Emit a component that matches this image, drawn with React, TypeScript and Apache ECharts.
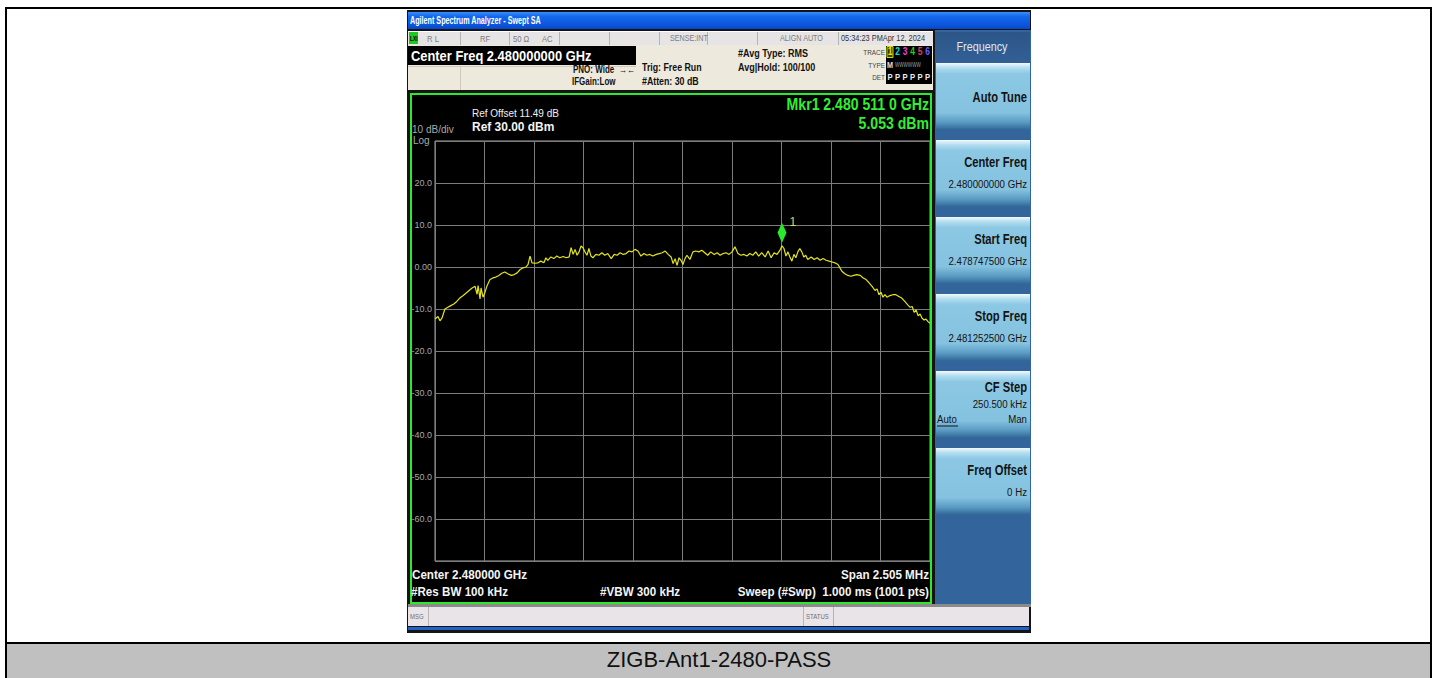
import React, { useEffect, useRef } from 'react';
import * as echarts from 'echarts';

// Trace: [sweep point index (0..1000), level dBm]
const trace: [number, number][] = [
  [0, -12.4], [6, -11.8], [10, -12.8], [14, -12.2], [20, -10.0], [26, -9.6], [32, -9.2], [38, -8.8],
  [44, -8.2], [50, -7.4], [57, -6.8], [63, -6.2], [69, -5.6], [75, -5.0], [81, -4.6], [85, -6.5],
  [87, -4.4], [91, -7.6], [93, -5.0], [97, -7.2], [101, -6.0], [105, -4.5], [111, -3.0], [117, -2.6],
  [123, -2.4], [129, -2.0], [135, -1.5], [141, -1.2], [147, -1.6], [154, -2.0], [160, -1.8], [166, -1.4],
  [172, -0.6], [178, -0.2], [184, 0.0], [188, 0.6], [192, 2.6], [196, 1.0], [202, 0.9], [208, 1.0],
  [214, 1.4], [220, 1.0], [224, 2.2], [228, 1.6], [234, 2.4], [240, 2.0], [246, 2.6], [252, 2.2],
  [259, 2.5], [265, 2.2], [271, 2.4], [275, 4.6], [279, 3.0], [283, 4.2], [287, 2.8], [291, 3.6],
  [295, 5.0], [299, 4.6], [303, 3.6], [307, 2.8], [311, 4.4], [315, 2.6], [319, 2.2], [325, 3.0],
  [331, 2.8], [337, 3.4], [343, 2.8], [349, 3.2], [356, 2.0], [362, 3.0], [368, 2.8], [374, 3.4],
  [380, 3.0], [386, 3.2], [392, 3.8], [398, 3.6], [404, 4.2], [410, 3.8], [416, 2.6], [422, 3.2],
  [428, 2.8], [434, 3.0], [440, 2.6], [447, 3.0], [453, 3.2], [459, 3.4], [465, 3.8], [471, 3.0],
  [477, 2.4], [481, 0.8], [485, 2.0], [489, 0.4], [493, 2.2], [497, 1.6], [501, 0.6], [505, 2.0],
  [509, 2.8], [515, 1.8], [521, 3.6], [527, 3.8], [533, 3.6], [539, 4.0], [545, 3.4], [551, 2.8],
  [557, 3.6], [564, 3.0], [570, 3.4], [576, 2.8], [582, 3.2], [588, 3.4], [594, 3.0], [600, 3.6],
  [606, 4.8], [612, 3.2], [618, 2.8], [624, 3.0], [630, 2.6], [636, 3.2], [642, 2.8], [648, 3.6],
  [654, 2.6], [660, 3.4], [667, 2.4], [673, 3.8], [679, 2.2], [685, 3.4], [691, 3.0], [697, 4.0],
  [701, 5.053], [705, 4.4], [709, 2.6], [713, 3.6], [717, 2.4], [721, 1.4], [725, 3.0], [729, 2.2],
  [733, 3.6], [737, 4.4], [741, 3.6], [745, 2.4], [749, 2.8], [753, 1.8], [760, 2.4], [766, 1.8],
  [772, 2.2], [778, 1.6], [784, 2.0], [790, 1.6], [796, 1.4], [802, 1.2], [808, 1.0], [814, 0.6],
  [818, -0.2], [822, -1.0], [828, -1.6], [834, -2.0], [840, -2.2], [846, -2.0], [852, -1.8], [859, -2.0],
  [865, -2.6], [871, -3.0], [877, -3.8], [883, -4.6], [889, -5.6], [893, -5.2], [897, -6.6], [901, -6.0],
  [905, -7.2], [909, -6.6], [913, -7.2], [919, -6.8], [925, -6.6], [931, -6.6], [937, -7.0], [943, -7.4],
  [949, -8.2], [955, -9.0], [960, -9.6], [964, -9.4], [968, -10.8], [972, -10.2], [976, -11.6], [980, -11.2],
  [984, -12.2], [988, -12.6], [992, -12.4], [996, -13.0], [1000, -13.4],
];

const markerIdx = 701;
const markerDbm = 5.053;

const yTickValues = [20, 10, 0, -10, -20, -30, -40, -50, -60];
const yTickLabels = ['20.0', '10.0', '0.00', '-10.0', '-20.0', '-30.0', '-40.0', '-50.0', '-60.0'];

const softkeyTitles = ['Auto Tune', 'Center Freq', 'Start Freq', 'Stop Freq', 'CF Step', 'Freq Offset'];
const softkeyValues = ['', '2.480000000 GHz', '2.478747500 GHz', '2.481252500 GHz', '250.500 kHz', '0 Hz'];

const traceNumColors = ['#e8e800', '#00dede', '#e040e0', '#20d020', '#e03c5a', '#6a5cff'];

const FONT = '"Liberation Sans", Arial, Helvetica, sans-serif';

type TOpt = { s?: number; b?: boolean; c?: string; a?: string; sx?: number; z?: number };
function txt(text: string, x: number, y: number, o: TOpt = {}) {
  const align = o.a ?? 'left';
  return {
    type: 'text',
    x,
    y,
    z: o.z ?? 20,
    scaleX: o.sx ?? 1,
    silent: true,
    style: {
      text,
      fill: o.c ?? '#fff',
      font: `${o.b ? 'bold ' : ''}${o.s ?? 11}px ${FONT}`,
      align,
      textAlign: align,
      verticalAlign: 'middle',
      textVerticalAlign: 'middle',
    },
  };
}
function rect(x: number, y: number, w: number, h: number, fill: any, z = -5, extra: any = {}) {
  return { type: 'rect', silent: true, z, shape: { x, y, width: w, height: h }, style: { fill, ...extra } };
}
function vline(x: number, y1: number, y2: number, stroke: string, z = -4, lw = 1) {
  return { type: 'line', silent: true, z, shape: { x1: x, y1, x2: x, y2 }, style: { stroke, lineWidth: lw } };
}
function hline(y: number, x1: number, x2: number, stroke: string, z = -4, lw = 1) {
  return { type: 'line', silent: true, z, shape: { x1, y1: y, x2, y2: y }, style: { stroke, lineWidth: lw } };
}
const grad = (stops: [number, string][]) =>
  new echarts.graphic.LinearGradient(0, 0, 0, 1, stops.map(([offset, color]) => ({ offset, color })));

function buildGraphics() {
  const g: any[] = [];
  // page
  g.push(rect(0, 0, 1438, 678, '#ffffff', -20));
  g.push(rect(6, 643, 1425, 35, '#c0c0c0', -19));
  g.push({ type: 'rect', silent: true, z: -18, shape: { x: 6, y: 8, width: 1425, height: 690 }, style: { fill: 'none', stroke: '#000', lineWidth: 2 } });
  g.push(hline(643, 5, 1432, '#000', -18, 2));
  g.push(txt('ZIGB-Ant1-2480-PASS', 719, 659, { s: 22, c: '#111' }));
  g[g.length - 1].style.align = 'center';
  g[g.length - 1].style.textAlign = 'center';

  // screenshot frame
  g.push(rect(407, 10, 624, 623, '#141414', -17));
  // title bar
  g.push(rect(408, 12, 622, 17, grad([[0, '#3c8ef8'], [0.25, '#1468ec'], [0.8, '#0a54dc'], [1, '#0846c4']]), -16));
  g.push(txt('Agilent Spectrum Analyzer - Swept SA', 410, 21, { s: 10, b: true, sx: 0.72 }));
  // status row
  g.push(rect(408, 31, 525, 14, '#e6e4e4', -16));
  g.push(hline(31.5, 408, 933, '#ffffff', -15));
  [460, 509, 559, 609, 659, 707, 757, 838].forEach((x) => g.push(vline(x + 0.5, 32, 45, '#b4b4b4', -15)));
  g.push(rect(409, 32, 9, 12, '#22c822', -15));
  g.push(txt('LXI', 410, 38.5, { s: 7, b: true, c: '#000', sx: 0.7 }));
  const sc = '#7c7c7c';
  g.push(txt('R L', 427, 38.5, { s: 9, c: sc, sx: 0.85 }));
  g.push(txt('RF', 480, 38.5, { s: 9, c: sc, sx: 0.85 }));
  g.push(txt('50 Ω', 513, 38.5, { s: 9, c: sc, sx: 0.85 }));
  g.push(txt('AC', 542, 38.5, { s: 9, c: sc, sx: 0.85 }));
  g.push(txt('SENSE:INT', 670, 38.5, { s: 9, c: sc, sx: 0.8 }));
  g.push(txt('ALIGN AUTO', 780, 38.5, { s: 9, c: sc, sx: 0.8 }));
  g.push(txt('05:34:23 PMApr 12, 2024', 841, 38.5, { s: 9, c: '#333', sx: 0.82 }));

  // header beige
  g.push(rect(408, 45, 525, 45, '#ede9dd', -16));
  g.push(rect(408, 46, 228, 19, '#000', -15));
  g.push(txt('Center Freq 2.480000000 GHz', 411, 56, { s: 15, b: true, sx: 0.86 }));
  g.push(hline(66.5, 408, 636, '#cfcabd', -15));
  g.push(vline(460.5, 66, 90, '#cfcabd', -15));
  const hc = '#111';
  g.push(txt('PNO: Wide', 573, 70, { s: 10, b: true, c: hc, sx: 0.8 }));
  g.push(txt('→←', 619, 70, { s: 9, c: hc, sx: 0.9 }));
  g.push(txt('IFGain:Low', 572, 82, { s: 10, b: true, c: hc, sx: 0.8 }));
  g.push(txt('Trig: Free Run', 642, 67, { s: 11, b: true, c: hc, sx: 0.8 }));
  g.push(txt('#Atten: 30 dB', 642, 81, { s: 11, b: true, c: hc, sx: 0.8 }));
  g.push(txt('#Avg Type: RMS', 738, 53, { s: 11, b: true, c: hc, sx: 0.82 }));
  g.push(txt('Avg|Hold: 100/100', 738, 67, { s: 11, b: true, c: hc, sx: 0.82 }));
  // trace box
  g.push(txt('TRACE', 885, 52, { s: 8, c: '#444', sx: 0.8, a: 'right' }));
  g.push(txt('TYPE', 885, 65, { s: 8, c: '#444', sx: 0.8, a: 'right' }));
  g.push(txt('DET', 885, 77, { s: 8, c: '#444', sx: 0.8, a: 'right' }));
  g.push(rect(886, 46, 46, 38, '#000', -15));
  const txs = [890, 897.5, 905, 912.5, 920, 927.5];
  g.push({ type: 'rect', silent: true, z: 18, shape: { x: 887, y: 46.5, width: 6, height: 11 }, style: { fill: '#3a3a00', stroke: '#d8d800', lineWidth: 1 } });
  txs.forEach((x, i) => g.push(txt(String(i + 1), x, 52, { s: 10, b: true, c: traceNumColors[i], a: 'center', sx: 0.85 })));
  g.push(txt('M', 890, 65, { s: 9, b: true, c: '#e0e0e0', a: 'center', sx: 0.8 }));
  g.push(txt('WWWWWW', 895, 65, { s: 7, c: '#a0a0a0', sx: 0.65 }));
  txs.forEach((x) => g.push(txt('P', x, 77, { s: 9, b: true, c: '#f0f0f0', a: 'center', sx: 0.85 })));

  // graph area
  g.push(rect(411, 94, 520, 509, '#000', -14));
  g.push({ type: 'rect', silent: true, z: 15, shape: { x: 411, y: 94, width: 520, height: 509 }, style: { fill: 'none', stroke: '#2ee82e', lineWidth: 2 } });
  g.push(txt('Ref Offset 11.49 dB', 472, 113, { s: 10, c: '#f0f0f0' }));
  g.push(txt('Ref 30.00 dBm', 472, 127, { s: 13, b: true, c: '#f4f4f4', sx: 0.92 }));
  g.push(txt('10 dB/div', 412, 129, { s: 10, c: '#a8a8a8' }));
  g.push(txt('Log', 413, 140, { s: 10, c: '#a8a8a8' }));
  g.push(txt('Mkr1 2.480 511 0 GHz', 929, 104, { s: 16, b: true, c: '#33ee33', a: 'right', sx: 0.88 }));
  g.push(txt('5.053 dBm', 929, 123, { s: 16, b: true, c: '#33ee33', a: 'right', sx: 0.88 }));
  g.push(txt('Center 2.480000 GHz', 412, 575, { s: 12, b: true, c: '#f4f4f4', sx: 0.97 }));
  g.push(txt('#Res BW 100 kHz', 411, 592, { s: 12, b: true, c: '#f4f4f4', sx: 0.97 }));
  g.push(txt('#VBW 300 kHz', 600, 592, { s: 12, b: true, c: '#f4f4f4', sx: 0.97 }));
  g.push(txt('Span 2.505 MHz', 929, 575, { s: 12, b: true, c: '#f4f4f4', a: 'right', sx: 0.97 }));
  g.push(txt('Sweep (#Swp)  1.000 ms (1001 pts)', 929, 592, { s: 12, b: true, c: '#f4f4f4', a: 'right', sx: 0.97 }));

  // right softkey panel
  g.push(rect(935, 30, 96, 575, '#33649c', -16));
  g.push(rect(935, 32, 95, 31, grad([[0, '#2c5688'], [1, '#325f96']]), -15));
  g.push(txt('Frequency', 982, 47, { s: 12, c: '#dfe8f2', a: 'center', sx: 0.9 }));
  softkeyTitles.forEach((title, i) => {
    const top = 63 + 77 * i;
    g.push(rect(936, top, 94, 67, grad([[0, '#f2fafd'], [0.07, '#b4def0'], [0.16, '#8cc8e4'], [0.74, '#84c2df'], [0.88, '#5b9cc4'], [1, '#2f6696']]), -15));
    const tc = '#141414';
    if (i === 0) {
      g.push(txt(title, 1027, top + 35, { s: 14, b: true, c: tc, a: 'right', sx: 0.8 }));
    } else if (title === 'CF Step') {
      g.push(txt(title, 1027, top + 17, { s: 14, b: true, c: tc, a: 'right', sx: 0.8 }));
      g.push(txt(softkeyValues[i], 1027, top + 33, { s: 11, c: tc, a: 'right', sx: 0.88 }));
      g.push(txt('Auto', 937, top + 48, { s: 11, c: tc, sx: 0.88 }));
      g.push(hline(top + 55, 937, 958, tc, 16, 1));
      g.push(txt('Man', 1027, top + 48, { s: 11, c: tc, a: 'right', sx: 0.88 }));
    } else {
      g.push(txt(title, 1027, top + 23, { s: 14, b: true, c: tc, a: 'right', sx: 0.8 }));
      g.push(txt(softkeyValues[i], 1027, top + 44, { s: 11, c: tc, a: 'right', sx: 0.88 }));
    }
  });

  // bottom message bar
  g.push(rect(408, 604, 623, 3, '#8a8a8a', -15));
  g.push(rect(408, 607, 621, 19, '#e8e4e8', -15));
  g.push(vline(428.5, 607, 626, '#b8b4b8', -14));
  g.push(vline(803.5, 607, 626, '#b8b4b8', -14));
  g.push(vline(833.5, 607, 626, '#b8b4b8', -14));
  g.push(txt('MSG', 410, 616.5, { s: 8, c: '#707070', sx: 0.75 }));
  g.push(txt('STATUS', 806, 616.5, { s: 8, c: '#707070', sx: 0.75 }));
  g.push(rect(408, 627, 621, 3, '#2262c6', -15));
  return g;
}

export default function App() {
  const ref = useRef<HTMLDivElement>(null);
  useEffect(() => {
    if (!ref.current) return;
    const chart = echarts.init(ref.current, undefined, { renderer: 'svg' });
    chart.setOption({
      animation: false,
      graphic: { elements: buildGraphics() },
      grid: { left: 435, top: 141, width: 495, height: 420, show: true, borderColor: '#a4a4a4', borderWidth: 1, backgroundColor: 'transparent' },
      xAxis: {
        type: 'value', min: 0, max: 1000, interval: 100,
        axisLabel: { show: false }, axisTick: { show: false }, axisLine: { show: false },
        splitLine: { show: true, lineStyle: { color: '#7c7c7c', width: 1 } },
      },
      yAxis: {
        type: 'value', min: -70, max: 30, interval: 10,
        axisTick: { show: false }, axisLine: { show: false },
        axisLabel: {
          show: true, color: '#a8a8a8', fontSize: 9, fontFamily: FONT, margin: 3,
          formatter: (v: number) => {
            const i = yTickValues.indexOf(Math.round(v));
            return i >= 0 ? yTickLabels[i] : '';
          },
        },
        splitLine: { show: true, lineStyle: { color: '#7c7c7c', width: 1 } },
      },
      series: [
        {
          type: 'line',
          data: trace,
          showSymbol: false,
          silent: true,
          lineStyle: { color: '#e4e41a', width: 1.2 },
          z: 5,
          markPoint: {
            symbol: 'diamond',
            symbolSize: [9, 20],
            symbolOffset: [0, -13],
            itemStyle: { color: '#2ae82a' },
            label: { show: true, formatter: '1', position: [12, -7], color: '#d4d468', fontSize: 12, fontFamily: FONT },
            data: [{ coord: [markerIdx, markerDbm] }],
          },
        },
      ],
    });
    return () => chart.dispose();
  }, []);
  return <div ref={ref} style={{ position: 'absolute', left: 0, top: 0, width: 1438, height: 678 }} />;
}
